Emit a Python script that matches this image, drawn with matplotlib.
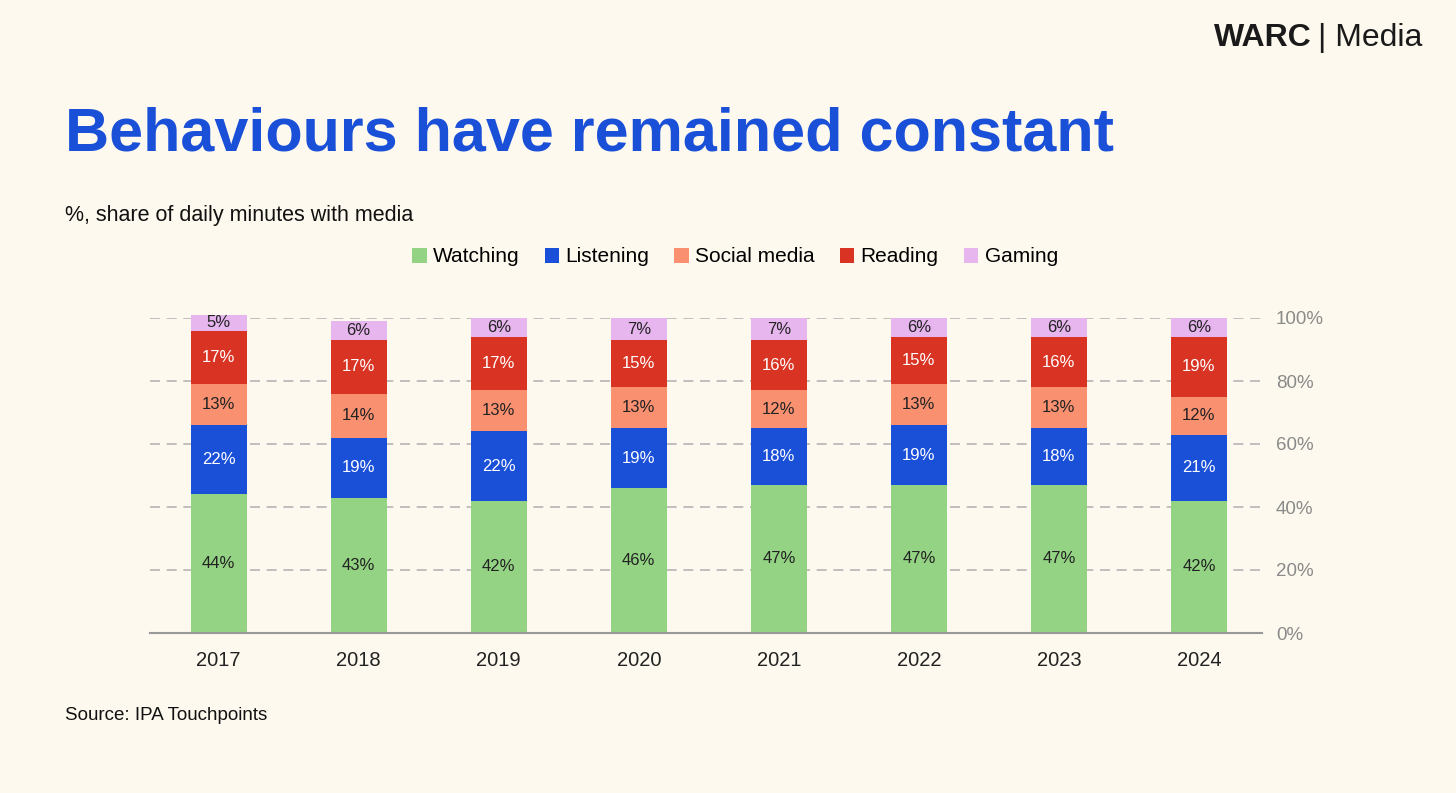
import matplotlib
matplotlib.use("Agg")
import matplotlib.pyplot as plt
import numpy as np

plt.rcParams['font.family'] = ['Liberation Sans', 'DejaVu Sans']

years = ["2017","2018","2019","2020","2021","2022","2023","2024"]
watching = [44,43,42,46,47,47,47,42]
listening = [22,19,22,19,18,19,18,21]
social = [13,14,13,13,12,13,13,12]
reading = [17,17,17,15,16,15,16,19]
gaming = [5,6,6,7,7,6,6,6]
series = [("Watching", watching, "#93D383", "#222222"),
          ("Listening", listening, "#1A4FD8", "white"),
          ("Social media", social, "#F99170", "#222222"),
          ("Reading", reading, "#D93423", "white"),
          ("Gaming", gaming, "#E8B6EE", "#222222")]

bg = "#FDF9EE"
fig = plt.figure(figsize=(14.56, 7.93), dpi=100, facecolor=bg)
ax = fig.add_axes([150/1456, 160/793, 1112/1456, 315/793], facecolor=bg)
x = np.arange(len(years))
bottom = np.zeros(len(years))
for name, vals, col, tc in series:
    v = np.array(vals, float)
    ax.bar(x, v, 0.4, bottom=bottom, color=col, label=name, clip_on=False, zorder=3)
    for xi, b, vi in zip(x, bottom, v):
        ax.text(xi, b + vi/2, f"{int(vi)}%", ha="center", va="center", fontsize=12, color=tc, zorder=4)
    bottom += v

ax.set_xlim(-0.49, 7.45)
ax.set_ylim(0, 100)
ax.yaxis.tick_right()
ax.set_yticks([0,20,40,60,80,100])
ax.set_yticklabels([f"{t}%" for t in [0,20,40,60,80,100]], fontsize=13.5, color="#8a8a8a")
ax.set_xticks(x)
ax.set_xticklabels(years, fontsize=14.5, color="#222222")
ax.tick_params(axis="x", length=0, pad=13)
ax.tick_params(axis="y", length=0, pad=10)
ax.grid(axis="y", color="#b5b5b5", linestyle=(0,(6,4)), linewidth=1.2, zorder=0)
for s in ["top","right","left"]:
    ax.spines[s].set_visible(False)
ax.spines["bottom"].set_color("#999999")
ax.spines["bottom"].set_linewidth(1.5)
ax.spines["bottom"].set_zorder(5)

fig.legend(loc="center", bbox_to_anchor=(735/1456, 1-257/793), ncol=5, frameon=False,
           fontsize=15, handlelength=0.7, handleheight=0.7, handletextpad=0.3, columnspacing=1.2)

fig.text(65/1456, 1-135/793, "Behaviours have remained constant", fontsize=44, fontweight="bold",
         color="#1A4FD8", va="center", ha="left")
fig.text(65/1456, 1-215/793, "%, share of daily minutes with media", fontsize=15.5, color="#111111", va="center")
fig.text(65/1456, 1-715/793, "Source: IPA Touchpoints", fontsize=13.5, color="#111111", va="center")
fig.text(1312/1456, 1-38/793, "WARC", fontsize=23, fontweight="bold", color="#1a1a1a", va="center", ha="right")
fig.text(1318/1456, 1-38/793, "| Media", fontsize=23, color="#1a1a1a", va="center", ha="left")

fig.savefig("out.png", dpi=100, facecolor=bg)
